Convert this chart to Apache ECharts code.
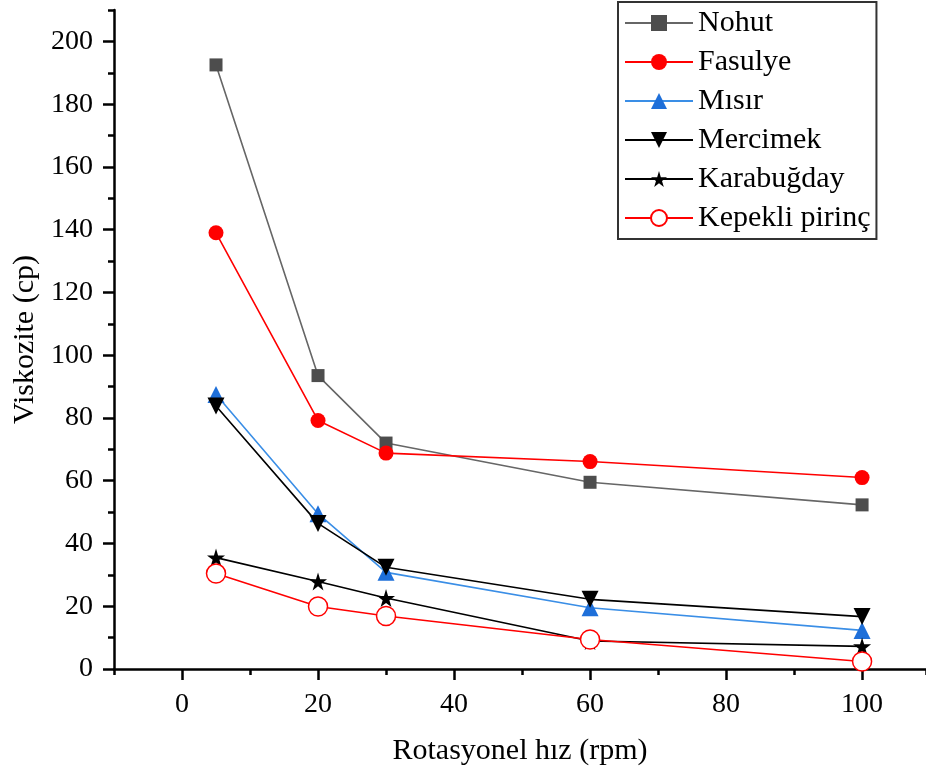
<!DOCTYPE html>
<html lang="tr" style="height: 100%">
<head>
  <meta charset="utf-8">
</head>
<body style="height: 100%; margin: 0; background: #fff">
  <div id="container" style="width: 926px; height: 778px"></div>

  <script type="text/javascript" src="https://fastly.jsdelivr.net/npm/echarts@6.0.0/dist/echarts.min.js"></script>
  <script type="text/javascript">
    // hız değerleri (rpm)
    var speeds = [5, 20, 30, 60, 100];

    var nohut = [192.5, 93.5, 72, 59.5, 52.3];
    var fasulye = [139, 79.2, 68.8, 66.1, 61];
    var misir = [87.5, 49.5, 30.8, 19.5, 12.3];
    var mercimek = [83.8, 46.4, 32.4, 22.2, 16.7];
    var karabugday = [35.5, 27.9, 22.6, 8.9, 7.2];
    var kepekli = [30.4, 19.9, 16.9, 9.4, 2.4];

    var xMajorTicks = [0, 20, 40, 60, 80, 100];
    var yMajorTicks = [0, 20, 40, 60, 80, 100, 120, 140, 160, 180, 200];

    var starPath = 'path://M50,0 L61,35 L98,35 L68,57 L79,91 L50,70 L21,91 L32,57 L2,35 L39,35 Z';
    var serifFont = '"Liberation Serif", "Times New Roman", serif';

    function pairs(vals) {
      return speeds.map(function (s, i) {
        return [s, vals[i]];
      });
    }

    function lineSeries(name, vals, lineColor, itemStyle, symbol, size, rotate) {
      return {
        name: name,
        type: 'line',
        data: pairs(vals),
        symbol: symbol,
        symbolSize: size,
        symbolRotate: rotate || 0,
        showAllSymbol: true,
        lineStyle: { color: lineColor, width: 1.6 },
        itemStyle: itemStyle,
        emphasis: { disabled: true },
        animation: false
      };
    }

    var dom = document.getElementById('container');
    var myChart = echarts.init(dom, null, { renderer: 'canvas' });

    var axisLineStyle = { show: true, onZero: false, lineStyle: { color: '#000', width: 2.5 } };

    var option = {
      backgroundColor: '#fff',
      textStyle: { fontFamily: serifFont },
      grid: { left: 114, right: 0, top: 10, bottom: 109, containLabel: false, outerBoundsMode: 'none' },
      legend: {
        orient: 'vertical',
        left: 618,
        top: 2,
        padding: [5, 6, 5, 6],
        itemWidth: 68,
        itemHeight: 20,
        itemGap: 7,
        borderColor: '#333',
        borderWidth: 2,
        textStyle: { fontFamily: serifFont, fontSize: 30, color: '#000', lineHeight: 32 },
        data: ['Nohut', 'Fasulye', 'Mısır', 'Mercimek', 'Karabuğday', 'Kepekli pirinç']
      },
      xAxis: [
        {
          type: 'value',
          min: -10,
          max: 109.4,
          interval: 10,
          axisLine: axisLineStyle,
          axisTick: { show: true, length: 6, lineStyle: { color: '#000', width: 2.5 } },
          axisLabel: { show: false },
          splitLine: { show: false }
        },
        {
          type: 'value',
          position: 'bottom',
          min: -10,
          max: 109.4,
          axisLine: { show: false, onZero: false },
          axisTick: { show: true, length: 11, customValues: xMajorTicks, lineStyle: { color: '#000', width: 2.5 } },
          axisLabel: { show: true, customValues: xMajorTicks, margin: 22, fontSize: 28, color: '#000', fontFamily: serifFont },
          splitLine: { show: false },
          name: 'Rotasyonel hız (rpm)',
          nameLocation: 'middle',
          nameGap: 67,
          nameTextStyle: { fontSize: 30, color: '#000', fontFamily: serifFont }
        }
      ],
      yAxis: [
        {
          type: 'value',
          min: 0,
          max: 210,
          interval: 10,
          axisLine: axisLineStyle,
          axisTick: { show: true, length: 6, lineStyle: { color: '#000', width: 2.5 } },
          axisLabel: { show: false },
          splitLine: { show: false }
        },
        {
          type: 'value',
          position: 'left',
          min: 0,
          max: 210,
          axisLine: { show: false, onZero: false },
          axisTick: { show: true, length: 11, customValues: yMajorTicks, lineStyle: { color: '#000', width: 2.5 } },
          axisLabel: { show: true, customValues: yMajorTicks, margin: 21, fontSize: 28, color: '#000', fontFamily: serifFont },
          splitLine: { show: false },
          name: 'Viskozite (cp)',
          nameLocation: 'middle',
          nameGap: 73,
          nameTextStyle: { fontSize: 30, color: '#000', fontFamily: serifFont }
        }
      ],
      series: [
        lineSeries('Nohut', nohut, '#666666', { color: '#4d4d4d' }, 'rect', 13),
        lineSeries('Fasulye', fasulye, '#ff0000', { color: '#ff0000' }, 'circle', 15),
        lineSeries('Mısır', misir, '#3a8ee6', { color: '#1e6fd9' }, 'triangle', 17),
        lineSeries('Mercimek', mercimek, '#000000', { color: '#000000' }, 'triangle', 17, 180),
        lineSeries('Karabuğday', karabugday, '#000000', { color: '#000000' }, starPath, 18),
        lineSeries('Kepekli pirinç', kepekli, '#ff0000', { color: '#ffffff', borderColor: '#ff0000', borderWidth: 1.5 }, 'circle', 19)
      ]
    };

    myChart.setOption(option);
    window.addEventListener('resize', myChart.resize);
  </script>
</body>
</html>
